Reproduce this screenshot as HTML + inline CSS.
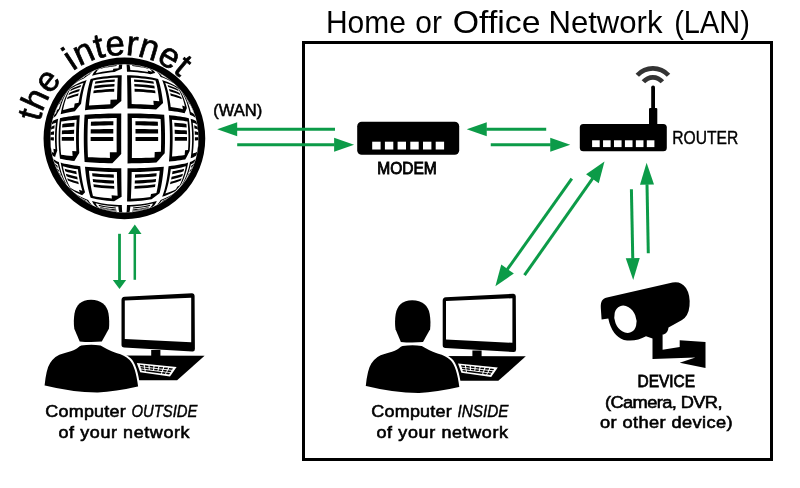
<!DOCTYPE html>
<html><head><meta charset="utf-8"><style>
html,body{margin:0;padding:0;background:#fff;overflow:hidden;width:800px;height:488px;}
svg{display:block;}
text{font-family:"Liberation Sans",sans-serif;fill:#000;}
</style></head><body>
<svg width="800" height="488" viewBox="0 0 800 488">
<rect x="303.5" y="42.5" width="468" height="417" fill="none" stroke="#000" stroke-width="3"/>
<clipPath id="gc"><circle cx="124.4" cy="138.4" r="75.5"/></clipPath>
<g clip-path="url(#gc)">
<circle cx="124.4" cy="138.4" r="76" fill="#fff"/>
<path fill="#000" d="M61.10 100.07 L61.72 99.06 L62.39 98.01 L63.12 96.92 L63.91 95.78 L64.76 94.59 L65.69 93.36 L66.70 92.07 L67.80 90.73 L69.02 89.36 L67.80 90.96 L66.63 92.72 L65.53 94.62 L64.48 96.67 L63.49 98.86 L62.56 101.18 L61.69 103.63 L60.89 106.18 L60.15 108.85 L58.59 111.28 L57.15 113.69 L55.83 116.07 L54.77 116.72 L53.95 117.39 L53.38 118.07 L53.05 118.77 L52.87 119.46 L52.70 120.10 L52.55 120.70 L53.12 118.51 L53.75 116.38 L54.43 114.31 L55.16 112.29 L55.92 110.35 L56.72 108.47 L57.56 106.65 L58.42 104.90 L59.30 103.22 L60.19 101.61Z M51.89 123.61 L52.00 123.09 L52.12 122.54 L52.27 121.95 L52.62 121.36 L53.23 120.79 L54.09 120.23 L55.21 119.68 L56.56 119.16 L58.16 118.64 L57.73 121.74 L57.37 124.89 L57.08 128.08 L56.88 131.31 L56.75 134.57 L56.69 137.83 L56.72 141.10 L56.82 144.37 L57.00 147.61 L57.26 150.82 L56.37 153.03 L55.65 155.12 L55.12 157.08 L54.03 156.54 L53.19 155.98 L52.60 155.41 L52.26 154.83 L52.12 154.25 L52.00 153.70 L51.89 153.19 L51.45 150.80 L51.08 148.37 L50.78 145.91 L50.57 143.42 L50.44 140.91 L50.40 138.40 L50.44 135.89 L50.57 133.38 L50.78 130.89 L51.08 128.43 L51.45 126.00Z M52.55 156.10 L52.70 156.71 L52.87 157.36 L53.06 158.05 L53.39 158.75 L53.99 159.44 L54.83 160.12 L55.92 160.77 L57.25 161.41 L58.83 162.02 L59.42 164.88 L60.08 167.65 L60.80 170.33 L61.60 172.90 L62.46 175.35 L63.38 177.69 L64.36 179.89 L65.41 181.96 L66.51 183.88 L66.42 184.26 L66.50 184.48 L66.63 184.64 L65.63 183.37 L64.72 182.15 L63.87 180.97 L63.10 179.85 L62.38 178.77 L61.72 177.73 L61.10 176.73 L60.19 175.19 L59.30 173.58 L58.42 171.90 L57.56 170.15 L56.72 168.33 L55.92 166.45 L55.16 164.51 L54.43 162.49 L53.75 160.42 L53.12 158.29Z M84.12 76.32 L85.56 75.41 L87.05 74.52 L88.61 73.63 L90.24 72.76 L91.93 71.90 L93.69 71.07 L95.51 70.27 L97.39 69.50 L96.58 69.83 L95.71 70.19 L94.80 70.58 L93.83 71.01 L92.81 71.50 L91.80 72.18 L90.82 73.08 L89.86 74.21 L86.82 76.29 L83.80 78.56 L81.56 79.56 L79.47 80.62 L77.54 81.75 L75.76 82.92 L74.15 84.16 L72.72 85.44 L74.03 84.19 L75.31 83.03 L76.55 81.95 L77.75 80.96 L78.91 80.03 L80.03 79.18 L81.11 78.38 L82.15 77.65 L83.16 76.96Z M70.44 88.04 L71.92 86.87 L73.57 85.75 L75.39 84.68 L77.36 83.65 L79.47 82.68 L81.73 81.76 L84.13 80.90 L86.66 80.09 L85.89 82.08 L85.16 84.25 L84.46 86.58 L83.80 89.07 L83.17 91.71 L82.59 94.50 L82.04 97.42 L81.54 100.46 L81.08 103.63 L77.90 107.46 L74.84 111.33 L72.03 111.74 L69.40 112.18 L66.93 112.65 L64.64 113.14 L62.55 113.65 L60.64 114.19 L61.21 111.22 L61.86 108.35 L62.56 105.58 L63.34 102.92 L64.17 100.37 L65.07 97.95 L66.03 95.67 L67.05 93.53 L68.13 91.54 L69.26 89.71Z M60.00 118.15 L61.88 117.72 L63.94 117.30 L66.18 116.90 L68.59 116.52 L71.17 116.16 L73.91 115.82 L76.80 115.50 L79.83 115.20 L79.55 118.84 L79.33 122.54 L79.15 126.30 L79.02 130.09 L78.94 133.90 L78.90 137.74 L78.92 141.57 L78.98 145.40 L79.10 149.20 L79.26 152.96 L77.53 155.74 L75.89 158.43 L74.36 161.03 L71.53 160.68 L68.86 160.32 L66.37 159.93 L64.05 159.52 L61.93 159.09 L60.00 158.65 L59.57 155.39 L59.22 152.06 L58.94 148.69 L58.74 145.28 L58.63 141.85 L58.59 138.40 L58.63 134.95 L58.74 131.52 L58.94 128.11 L59.22 124.74 L59.57 121.41Z M60.64 162.61 L62.49 163.13 L64.53 163.63 L66.74 164.11 L69.13 164.57 L71.68 165.00 L74.39 165.41 L77.25 165.80 L80.24 166.15 L80.62 169.53 L81.03 172.81 L81.49 175.99 L81.99 179.05 L82.53 181.99 L83.11 184.79 L83.73 187.45 L84.38 189.95 L85.08 192.30 L83.47 193.89 L82.11 195.18 L79.77 194.24 L77.57 193.25 L75.54 192.21 L73.67 191.11 L71.97 189.96 L70.44 188.76 L69.26 187.09 L68.13 185.26 L67.05 183.27 L66.03 181.13 L65.07 178.85 L64.17 176.43 L63.34 173.88 L62.56 171.22 L61.86 168.45 L61.21 165.58Z M72.72 191.36 L74.11 192.61 L75.67 193.81 L77.39 194.96 L79.26 196.06 L81.28 197.10 L83.44 198.09 L85.73 199.02 L88.15 199.88 L89.05 201.42 L89.98 202.74 L90.94 203.84 L91.93 204.72 L92.94 205.37 L93.96 205.85 L94.92 206.27 L95.82 206.66 L94.86 206.25 L93.97 205.86 L92.16 205.01 L90.42 204.14 L88.74 203.24 L87.13 202.33 L85.60 201.41 L84.12 200.48 L83.16 199.84 L82.15 199.15 L81.11 198.42 L80.03 197.62 L78.91 196.77 L77.75 195.84 L76.55 194.85 L75.31 193.77 L74.03 192.61Z M100.33 68.42 L102.58 67.69 L104.89 67.02 L107.28 66.41 L109.71 65.87 L112.20 65.41 L114.74 65.03 L117.30 64.74 L119.90 64.54 L122.51 64.42 L122.44 64.43 L122.37 64.43 L122.29 64.53 L122.22 64.88 L122.15 65.47 L122.08 66.30 L122.01 67.37 L121.95 68.67 L119.54 69.66 L117.07 70.79 L114.53 72.04 L111.09 72.32 L107.71 72.68 L104.38 73.13 L101.13 73.66 L97.98 74.28 L94.92 74.97 L91.98 75.74 L92.76 74.18 L93.58 72.83 L94.42 71.70 L95.28 70.78 L96.17 70.09 L97.08 69.63 L97.97 69.28 L98.80 68.97 L99.59 68.68Z M90.66 78.99 L93.76 78.27 L96.98 77.62 L100.30 77.05 L103.72 76.55 L107.22 76.13 L110.78 75.79 L114.40 75.53 L118.05 75.35 L121.73 75.25 L121.68 77.45 L121.63 79.83 L121.58 82.38 L121.54 85.10 L121.49 87.98 L121.45 91.01 L121.42 94.18 L121.38 97.48 L121.35 100.91 L118.41 103.42 L115.44 105.99 L112.46 108.62 L108.29 108.74 L104.17 108.89 L100.13 109.08 L96.18 109.30 L92.32 109.55 L88.58 109.84 L84.97 110.16 L85.30 106.68 L85.67 103.31 L86.08 100.04 L86.53 96.90 L87.02 93.88 L87.54 91.00 L88.10 88.27 L88.69 85.70 L89.31 83.29 L89.97 81.05Z M84.60 114.80 L88.28 114.53 L92.10 114.29 L96.04 114.07 L100.07 113.89 L104.20 113.73 L108.39 113.61 L112.64 113.51 L116.94 113.45 L121.26 113.41 L121.25 117.33 L121.23 121.32 L121.22 125.37 L121.21 129.45 L121.20 133.56 L121.20 137.69 L121.20 141.81 L121.21 145.93 L121.21 150.03 L121.23 154.09 L118.22 157.21 L115.26 160.28 L112.35 163.28 L108.14 163.18 L103.99 163.06 L99.91 162.90 L95.92 162.72 L92.02 162.51 L88.25 162.27 L84.60 162.00 L84.35 158.19 L84.14 154.32 L83.98 150.38 L83.87 146.41 L83.80 142.41 L83.78 138.40 L83.80 134.39 L83.87 130.39 L83.98 126.42 L84.14 122.48 L84.35 118.61Z M84.97 166.64 L88.62 166.97 L92.40 167.26 L96.30 167.51 L100.30 167.73 L104.38 167.92 L108.54 168.07 L112.75 168.18 L117.01 168.26 L121.29 168.31 L121.32 171.96 L121.35 175.51 L121.38 178.94 L121.41 182.26 L121.45 185.45 L121.49 188.49 L121.53 191.39 L121.58 194.13 L121.62 196.70 L119.05 198.35 L116.55 199.87 L114.14 201.26 L110.57 200.99 L107.04 200.65 L103.58 200.23 L100.20 199.74 L96.91 199.17 L93.73 198.52 L90.66 197.81 L89.97 195.75 L89.31 193.51 L88.69 191.10 L88.10 188.53 L87.54 185.80 L87.02 182.92 L86.53 179.90 L86.08 176.76 L85.67 173.49 L85.30 170.12Z M91.98 201.06 L94.95 201.84 L98.04 202.54 L101.23 203.15 L104.51 203.69 L107.88 204.14 L111.30 204.50 L114.78 204.78 L118.29 204.97 L121.83 205.08 L121.89 206.81 L121.96 208.31 L122.02 209.58 L122.09 210.61 L122.16 211.41 L122.23 211.97 L122.30 212.29 L122.38 212.37 L120.54 212.30 L118.79 212.19 L117.12 212.04 L114.58 211.75 L112.08 211.37 L109.62 210.91 L107.20 210.37 L104.85 209.77 L102.55 209.10 L100.33 208.38 L99.59 208.12 L98.80 207.83 L97.97 207.52 L97.08 207.17 L96.17 206.71 L95.28 206.02 L94.42 205.10 L93.58 203.97 L92.76 202.62Z M126.29 64.42 L128.90 64.54 L131.50 64.74 L134.06 65.03 L136.60 65.41 L139.09 65.87 L141.52 66.41 L143.91 67.02 L146.22 67.69 L148.47 68.42 L149.22 68.69 L150.02 68.98 L150.87 69.30 L151.77 69.65 L152.68 70.13 L153.58 70.84 L154.46 71.79 L155.30 72.95 L153.85 73.23 L152.26 73.65 L150.54 74.22 L147.37 73.61 L144.12 73.09 L140.79 72.65 L137.39 72.29 L133.95 72.01 L130.47 71.82 L126.97 71.72 L126.91 70.01 L126.84 68.53 L126.78 67.27 L126.71 66.23 L126.64 65.43 L126.57 64.86 L126.50 64.53 L126.43 64.43 L126.36 64.43Z M127.07 75.25 L130.75 75.35 L134.40 75.53 L138.02 75.79 L141.58 76.13 L145.08 76.55 L148.50 77.05 L151.82 77.62 L155.04 78.27 L158.14 78.99 L158.83 81.03 L159.48 83.24 L160.09 85.62 L160.68 88.17 L161.23 90.86 L161.75 93.70 L162.24 96.68 L162.68 99.79 L163.09 103.01 L160.88 105.08 L158.56 107.25 L156.13 109.53 L152.27 109.28 L148.30 109.06 L144.25 108.88 L140.14 108.73 L135.96 108.61 L131.75 108.53 L127.51 108.49 L127.48 104.81 L127.45 101.22 L127.42 97.75 L127.39 94.41 L127.35 91.20 L127.31 88.13 L127.27 85.21 L127.22 82.46 L127.17 79.88 L127.12 77.47Z M127.54 113.41 L131.86 113.45 L136.16 113.51 L140.41 113.61 L144.60 113.73 L148.73 113.89 L152.76 114.07 L156.70 114.29 L160.52 114.53 L164.20 114.80 L164.45 118.50 L164.65 122.27 L164.80 126.08 L164.92 129.94 L164.99 133.83 L165.02 137.73 L165.01 141.63 L164.95 145.52 L164.85 149.39 L164.71 153.22 L162.01 156.33 L159.25 159.43 L156.43 162.53 L152.52 162.74 L148.52 162.92 L144.44 163.07 L140.28 163.19 L136.07 163.29 L131.82 163.35 L127.54 163.39 L127.56 159.35 L127.57 155.25 L127.58 151.08 L127.59 146.88 L127.60 142.65 L127.60 138.40 L127.60 134.15 L127.59 129.92 L127.58 125.72 L127.57 121.55 L127.56 117.45Z M127.51 168.31 L131.79 168.26 L136.05 168.18 L140.26 168.07 L144.42 167.92 L148.50 167.73 L152.50 167.51 L156.40 167.26 L160.18 166.97 L163.83 166.64 L163.50 170.08 L163.13 173.43 L162.73 176.66 L162.29 179.78 L161.81 182.77 L161.29 185.63 L160.74 188.34 L160.16 190.90 L159.55 193.30 L156.90 195.37 L154.25 197.34 L151.59 199.22 L148.30 199.79 L144.91 200.27 L141.44 200.69 L137.91 201.02 L134.33 201.28 L130.71 201.45 L127.07 201.55 L127.12 199.33 L127.17 196.92 L127.22 194.34 L127.27 191.59 L127.31 188.67 L127.35 185.60 L127.39 182.39 L127.42 179.05 L127.45 175.58 L127.48 171.99Z M126.97 205.08 L130.51 204.97 L134.02 204.78 L137.50 204.50 L140.92 204.14 L144.29 203.69 L147.57 203.15 L150.76 202.54 L153.85 201.84 L156.82 201.06 L156.03 202.64 L155.20 204.00 L154.35 205.14 L153.47 206.06 L152.57 206.74 L151.65 207.20 L150.76 207.55 L149.92 207.86 L147.83 208.59 L145.77 209.25 L143.74 209.83 L141.38 210.43 L138.96 210.95 L136.50 211.40 L133.99 211.78 L131.45 212.06 L128.88 212.26 L126.29 212.38 L126.36 212.37 L126.43 212.37 L126.50 212.27 L126.57 211.94 L126.64 211.37 L126.71 210.57 L126.78 209.53 L126.84 208.27 L126.91 206.79Z M151.41 69.50 L153.29 70.27 L155.11 71.07 L156.87 71.90 L158.56 72.76 L160.19 73.63 L161.75 74.52 L163.24 75.41 L164.68 76.32 L165.66 76.97 L166.67 77.66 L167.73 78.41 L168.83 79.22 L169.96 80.09 L171.14 81.03 L172.36 82.04 L173.62 83.14 L173.56 83.09 L173.39 83.18 L171.65 81.99 L169.74 80.85 L167.69 79.78 L165.48 78.76 L163.13 77.81 L160.65 76.92 L159.77 75.40 L158.85 74.09 L157.90 73.00 L156.92 72.12 L155.92 71.46 L154.92 70.99 L153.97 70.56 L153.06 70.18 L152.21 69.83Z M162.14 80.09 L164.67 80.90 L167.07 81.76 L169.33 82.68 L171.44 83.65 L173.41 84.68 L175.23 85.75 L176.88 86.87 L178.36 88.04 L179.53 89.69 L180.65 91.50 L181.72 93.47 L182.73 95.58 L183.68 97.84 L184.57 100.22 L185.41 102.73 L186.18 105.36 L186.88 108.10 L185.88 110.55 L184.61 113.24 L182.36 112.75 L179.93 112.28 L177.33 111.83 L174.56 111.41 L171.63 111.01 L168.56 110.65 L168.18 107.23 L167.76 103.92 L167.30 100.72 L166.79 97.63 L166.24 94.67 L165.66 91.85 L165.03 89.17 L164.36 86.65 L163.66 84.29 L162.92 82.10Z M168.97 115.20 L172.00 115.50 L174.89 115.82 L177.63 116.16 L180.21 116.52 L182.62 116.90 L184.86 117.30 L186.92 117.72 L188.80 118.15 L189.22 121.32 L189.57 124.55 L189.84 127.82 L190.04 131.14 L190.16 134.47 L190.21 137.82 L190.19 141.17 L190.09 144.51 L189.92 147.83 L189.67 151.12 L188.28 153.87 L186.79 156.64 L185.20 159.43 L182.93 159.84 L180.47 160.24 L177.84 160.61 L175.04 160.96 L172.08 161.29 L168.97 161.60 L169.26 157.85 L169.49 154.04 L169.67 150.18 L169.79 146.27 L169.87 142.34 L169.90 138.40 L169.87 134.46 L169.79 130.53 L169.67 126.62 L169.49 122.76 L169.26 118.95Z M168.56 166.15 L171.55 165.80 L174.41 165.41 L177.12 165.00 L179.67 164.57 L182.06 164.11 L184.27 163.63 L186.31 163.13 L188.16 162.61 L187.59 165.55 L186.96 168.39 L186.26 171.14 L185.49 173.78 L184.67 176.30 L183.78 178.70 L182.83 180.97 L181.83 183.10 L180.77 185.09 L178.19 188.04 L175.50 190.88 L173.66 191.98 L171.66 193.04 L169.50 194.04 L167.19 194.99 L164.73 195.88 L162.14 196.71 L162.92 194.70 L163.66 192.51 L164.36 190.15 L165.03 187.63 L165.66 184.95 L166.24 182.13 L166.79 179.17 L167.30 176.08 L167.76 172.88 L168.18 169.57Z M160.65 199.88 L163.07 199.02 L165.36 198.09 L167.52 197.10 L169.54 196.06 L171.41 194.96 L173.13 193.81 L174.69 192.61 L176.08 191.36 L174.75 192.63 L173.46 193.80 L172.20 194.89 L170.99 195.89 L169.82 196.82 L168.69 197.68 L167.60 198.48 L166.55 199.22 L164.27 200.74 L161.99 202.14 L160.40 203.05 L158.74 203.95 L157.01 204.83 L155.21 205.68 L153.34 206.51 L151.41 207.30 L152.21 206.97 L153.06 206.62 L153.97 206.24 L154.92 205.81 L155.92 205.34 L156.92 204.68 L157.90 203.80 L158.85 202.71 L159.77 201.40Z M179.78 89.36 L181.00 90.73 L182.10 92.07 L183.11 93.36 L184.04 94.59 L184.89 95.78 L185.68 96.92 L186.41 98.01 L187.08 99.06 L187.70 100.07 L188.60 101.60 L189.49 103.19 L190.36 104.85 L191.21 106.58 L192.03 108.37 L192.83 110.23 L193.59 112.16 L194.31 114.14 L194.99 116.19 L195.30 117.19 L195.61 118.26 L195.92 119.40 L195.73 118.71 L195.38 118.01 L194.79 117.33 L193.94 116.66 L192.86 116.01 L191.53 115.39 L189.97 114.78 L189.38 111.89 L188.71 109.09 L187.97 106.39 L187.17 103.80 L186.30 101.33 L185.36 98.98 L184.37 96.76 L183.31 94.68 L182.19 92.75 L181.01 90.98Z M190.64 118.64 L192.24 119.16 L193.59 119.68 L194.71 120.23 L195.57 120.79 L196.18 121.36 L196.53 121.95 L196.68 122.54 L196.80 123.09 L196.91 123.61 L197.34 125.93 L197.71 128.29 L198.00 130.68 L198.21 133.10 L198.34 135.53 L198.40 137.98 L198.37 140.42 L198.27 142.86 L198.08 145.28 L197.82 147.69 L197.51 149.81 L197.14 152.02 L196.67 154.30 L196.52 154.88 L196.15 155.46 L195.54 156.03 L194.68 156.59 L193.57 157.13 L192.22 157.65 L190.64 158.16 L191.09 154.97 L191.45 151.73 L191.74 148.44 L191.94 145.11 L192.07 141.76 L192.11 138.40 L192.07 135.04 L191.94 131.69 L191.74 128.36 L191.45 125.07 L191.09 121.83Z M189.97 162.02 L191.55 161.41 L192.88 160.77 L193.97 160.12 L194.81 159.44 L195.41 158.75 L195.74 158.05 L195.93 157.36 L196.10 156.71 L196.25 156.10 L195.68 158.27 L195.06 160.38 L194.39 162.43 L193.67 164.43 L192.92 166.36 L192.12 168.22 L191.30 170.02 L190.45 171.76 L189.58 173.43 L188.58 175.24 L187.50 177.05 L186.36 178.86 L185.64 179.95 L184.85 181.08 L184.00 182.26 L183.08 183.48 L182.08 184.76 L180.99 186.08 L179.78 187.44 L181.01 185.82 L182.19 184.05 L183.31 182.12 L184.37 180.04 L185.36 177.82 L186.30 175.47 L187.17 173.00 L187.97 170.41 L188.71 167.71 L189.38 164.91Z"/>
<path fill="#fff" d="M60.72 100.70 L61.35 99.67 L62.02 98.58 L62.76 97.45 L63.56 96.27 L64.43 95.04 L65.39 93.75 L66.44 92.42 L65.14 94.26 L63.91 96.27 L62.75 98.45 L61.67 100.79 L60.66 103.27 L59.72 105.89 L58.87 108.63 L56.97 109.95 L56.02 113.19 L55.04 114.02 L54.35 114.88 L53.95 115.75 L53.68 116.60 L53.45 117.38 L54.19 115.01 L55.00 112.71 L55.86 110.50 L56.77 108.36 L57.72 106.32 L58.69 104.36 L59.70 102.49Z M51.46 125.91 L51.54 125.46 L51.67 124.98 L52.03 124.50 L52.64 124.03 L53.51 123.58 L54.63 123.14 L55.99 122.71 L55.61 125.93 L55.33 129.21 L55.13 132.51 L55.01 135.85 L54.99 139.19 L55.06 142.52 L55.21 145.85 L55.45 149.14 L53.38 148.67 L53.87 152.87 L52.83 152.40 L52.08 151.91 L51.63 151.42 L51.47 150.91 L51.39 150.44 L51.03 148.03 L50.75 145.59 L50.55 143.13 L50.43 140.65 L50.40 138.17 L50.45 135.68 L50.58 133.20 L50.80 130.75 L51.09 128.31Z M53.34 159.05 L53.55 159.76 L53.79 160.53 L54.11 161.32 L54.68 162.10 L55.49 162.86 L56.55 163.60 L57.85 164.32 L58.60 167.21 L59.42 170.00 L60.33 172.66 L61.32 175.19 L62.38 177.58 L63.51 179.81 L64.72 181.88 L63.11 179.87 L64.63 182.02 L63.66 180.67 L62.78 179.37 L61.97 178.13 L61.24 176.96 L60.57 175.84 L59.55 174.04 L58.55 172.15 L57.57 170.18 L56.63 168.12 L55.73 165.98 L54.88 163.75 L54.08 161.44Z M84.47 76.10 L86.02 75.13 L87.64 74.18 L89.33 73.24 L91.10 72.32 L92.94 71.42 L94.86 70.55 L94.00 70.93 L93.10 71.35 L92.15 71.80 L91.14 72.29 L90.11 72.88 L89.09 73.66 L88.10 74.65 L85.12 76.06 L83.88 77.44 L81.44 78.70 L79.20 80.05 L77.18 81.47 L75.38 82.97 L76.66 81.86 L77.90 80.83 L79.10 79.88 L80.26 79.01 L81.37 78.20 L82.44 77.44 L83.47 76.75Z M70.54 88.80 L72.28 87.69 L74.19 86.63 L76.28 85.62 L78.52 84.66 L80.92 83.75 L83.47 82.91 L82.62 85.22 L81.83 87.73 L81.08 90.42 L80.37 93.29 L79.72 96.32 L79.11 99.50 L78.56 102.82 L74.69 103.53 L74.04 107.54 L70.91 108.12 L68.01 108.73 L65.35 109.39 L62.94 110.08 L63.64 106.91 L64.41 103.86 L65.26 100.94 L66.18 98.18 L67.17 95.57 L68.23 93.13 L69.35 90.87Z M61.17 121.56 L63.30 121.21 L65.63 120.88 L68.14 120.56 L70.82 120.25 L73.68 119.97 L76.70 119.70 L76.45 123.55 L76.27 127.45 L76.14 131.39 L76.07 135.36 L76.05 139.34 L76.09 143.31 L76.19 147.27 L76.35 151.19 L72.27 150.94 L72.60 156.07 L69.36 155.74 L66.36 155.39 L63.60 155.02 L61.11 154.63 L60.80 151.38 L60.57 148.09 L60.40 144.77 L60.30 141.43 L60.28 138.08 L60.32 134.73 L60.43 131.40 L60.61 128.08 L60.86 124.80Z M62.84 166.23 L64.90 166.81 L67.15 167.38 L69.59 167.91 L72.19 168.42 L74.97 168.90 L77.90 169.34 L78.38 172.83 L78.92 176.20 L79.51 179.42 L80.15 182.50 L80.83 185.43 L81.57 188.18 L82.35 190.75 L78.83 189.66 L79.91 192.40 L77.19 191.32 L74.68 190.18 L72.40 188.97 L70.36 187.70 L69.18 185.60 L68.06 183.31 L67.01 180.85 L66.03 178.21 L65.12 175.43 L64.29 172.49 L63.53 169.42Z M75.18 193.66 L76.72 194.95 L78.43 196.18 L80.31 197.35 L82.33 198.47 L84.51 199.52 L86.82 200.51 L87.77 201.77 L88.75 202.82 L89.76 203.68 L90.79 204.33 L91.81 204.84 L92.78 205.31 L93.70 205.73 L91.07 204.47 L92.14 205.00 L90.04 203.94 L88.03 202.85 L86.13 201.73 L84.32 200.61 L83.32 199.95 L82.28 199.25 L81.21 198.48 L80.09 197.66 L78.92 196.78 L77.72 195.82 L76.47 194.78Z M101.90 67.90 L104.27 67.19 L106.70 66.55 L109.20 65.98 L111.75 65.49 L114.35 65.09 L116.99 64.77 L119.65 64.55 L119.49 64.56 L119.32 64.64 L119.15 64.93 L118.98 65.45 L118.82 66.19 L118.66 67.14 L118.51 68.31 L113.29 68.69 L112.96 70.33 L109.34 70.71 L105.78 71.19 L102.32 71.77 L98.95 72.45 L95.70 73.23 L96.44 71.89 L97.20 70.76 L97.98 69.85 L98.77 69.16 L99.59 68.69 L100.41 68.40 L101.18 68.14Z M93.08 80.46 L96.35 79.85 L99.74 79.30 L103.21 78.82 L106.77 78.42 L110.40 78.10 L114.07 77.85 L117.79 77.67 L117.66 80.25 L117.53 83.04 L117.42 86.01 L117.31 89.17 L117.21 92.50 L117.11 95.99 L117.03 99.62 L110.49 99.81 L110.32 104.26 L105.85 104.44 L101.46 104.66 L97.17 104.93 L93.00 105.24 L88.95 105.60 L89.33 101.90 L89.75 98.33 L90.21 94.91 L90.71 91.65 L91.24 88.57 L91.82 85.67 L92.43 82.96Z M87.99 118.93 L91.82 118.73 L95.77 118.56 L99.82 118.41 L103.95 118.29 L108.16 118.18 L112.43 118.10 L116.74 118.05 L116.70 122.24 L116.67 126.49 L116.65 130.78 L116.64 135.09 L116.64 139.42 L116.64 143.74 L116.66 148.04 L116.68 152.32 L109.84 152.25 L109.93 157.92 L105.34 157.82 L100.83 157.70 L96.42 157.55 L92.12 157.37 L87.96 157.17 L87.79 153.41 L87.67 149.61 L87.58 145.77 L87.52 141.91 L87.51 138.03 L87.53 134.16 L87.59 130.31 L87.69 126.47 L87.82 122.68Z M88.90 170.63 L92.63 170.96 L96.48 171.25 L100.42 171.50 L104.46 171.71 L108.56 171.88 L112.72 172.01 L116.92 172.10 L117.00 175.92 L117.08 179.60 L117.17 183.14 L117.27 186.52 L117.38 189.74 L117.49 192.78 L117.62 195.63 L111.60 195.34 L111.89 198.43 L107.93 198.11 L104.04 197.71 L100.24 197.21 L96.55 196.63 L92.98 195.97 L92.34 193.44 L91.73 190.71 L91.16 187.78 L90.63 184.67 L90.14 181.39 L89.68 177.94 L89.27 174.35Z M95.60 203.35 L98.60 204.07 L101.70 204.70 L104.90 205.25 L108.17 205.72 L111.50 206.10 L114.89 206.39 L118.31 206.59 L118.46 208.04 L118.61 209.29 L118.77 210.32 L118.93 211.13 L119.09 211.72 L119.26 212.09 L119.43 212.23 L115.04 211.81 L115.41 211.85 L112.56 211.45 L109.76 210.94 L107.03 210.33 L104.37 209.64 L101.80 208.86 L101.06 208.62 L100.29 208.36 L99.47 208.05 L98.65 207.55 L97.86 206.83 L97.08 205.89 L96.33 204.72Z M129.02 64.54 L131.69 64.76 L134.33 65.07 L136.93 65.47 L139.49 65.95 L141.99 66.52 L144.42 67.16 L146.79 67.87 L147.50 68.10 L148.25 68.35 L149.04 68.63 L149.84 69.07 L150.61 69.72 L151.37 70.58 L152.11 71.66 L147.48 70.52 L148.18 72.10 L144.76 71.47 L141.25 70.94 L137.66 70.51 L134.01 70.18 L130.31 69.96 L130.16 68.51 L130.01 67.28 L129.85 66.28 L129.69 65.50 L129.53 64.95 L129.36 64.64 L129.19 64.56Z M130.84 77.67 L134.56 77.84 L138.24 78.08 L141.87 78.41 L145.43 78.80 L148.91 79.27 L152.30 79.82 L155.58 80.43 L156.21 82.88 L156.80 85.51 L157.36 88.34 L157.89 91.34 L158.38 94.51 L158.83 97.84 L159.24 101.31 L153.37 100.73 L153.73 105.08 L149.50 104.79 L145.15 104.54 L140.72 104.35 L136.22 104.20 L131.67 104.10 L131.60 100.22 L131.51 96.47 L131.42 92.89 L131.32 89.46 L131.21 86.22 L131.10 83.16 L130.97 80.31Z M131.87 118.05 L136.18 118.10 L140.45 118.18 L144.66 118.28 L148.80 118.41 L152.85 118.55 L156.80 118.73 L160.64 118.92 L160.82 122.93 L160.96 127.00 L161.05 131.10 L161.11 135.23 L161.12 139.37 L161.09 143.51 L161.01 147.63 L160.90 151.72 L154.73 151.92 L154.55 157.46 L150.19 157.63 L145.73 157.76 L141.17 157.88 L136.55 157.96 L131.87 158.02 L131.91 154.09 L131.93 150.11 L131.95 146.10 L131.96 142.06 L131.96 138.02 L131.96 133.97 L131.95 129.94 L131.93 125.94 L131.90 121.97Z M131.68 172.11 L135.89 172.02 L140.05 171.89 L144.16 171.72 L148.20 171.51 L152.15 171.26 L156.00 170.97 L159.74 170.65 L159.38 174.29 L158.98 177.80 L158.54 181.18 L158.06 184.40 L157.55 187.46 L157.00 190.35 L156.41 193.05 L151.03 193.93 L150.42 196.94 L146.67 197.47 L142.83 197.92 L138.90 198.29 L134.90 198.56 L130.86 198.75 L130.99 196.07 L131.11 193.19 L131.23 190.10 L131.34 186.83 L131.44 183.38 L131.53 179.77 L131.61 176.01Z M130.33 206.60 L133.76 206.40 L137.15 206.11 L140.48 205.74 L143.76 205.28 L146.95 204.73 L150.06 204.10 L153.07 203.38 L152.36 204.73 L151.63 205.88 L150.87 206.81 L150.10 207.54 L149.31 208.05 L148.51 208.36 L147.75 208.62 L143.84 209.80 L143.11 210.00 L140.41 210.65 L137.65 211.20 L134.82 211.66 L131.95 212.01 L129.05 212.25 L129.21 212.24 L129.39 212.13 L129.55 211.78 L129.72 211.20 L129.88 210.39 L130.04 209.35 L130.19 208.08Z M153.87 70.52 L155.79 71.39 L157.63 72.28 L159.40 73.20 L161.10 74.14 L162.72 75.10 L164.27 76.06 L165.24 76.69 L166.25 77.37 L167.30 78.10 L168.38 78.89 L169.51 79.74 L170.67 80.65 L171.88 81.64 L169.76 79.93 L171.24 81.18 L169.17 79.77 L166.89 78.45 L164.41 77.20 L161.74 76.05 L160.77 74.79 L159.76 73.75 L158.73 72.92 L157.67 72.30 L156.64 71.79 L155.66 71.33 L154.74 70.91Z M165.23 82.87 L167.78 83.72 L170.19 84.62 L172.44 85.58 L174.53 86.59 L176.45 87.65 L178.19 88.76 L179.35 90.78 L180.46 92.99 L181.49 95.36 L182.47 97.90 L183.37 100.59 L184.21 103.43 L184.97 106.39 L182.18 105.48 L182.94 109.26 L180.23 108.61 L177.28 108.00 L174.10 107.42 L170.71 106.89 L170.21 103.34 L169.65 99.93 L169.04 96.65 L168.38 93.54 L167.67 90.59 L166.90 87.82 L166.09 85.25Z M171.98 119.69 L175.01 119.96 L177.87 120.24 L180.56 120.55 L183.08 120.86 L185.41 121.20 L187.55 121.55 L187.88 125.02 L188.14 128.53 L188.32 132.08 L188.42 135.66 L188.44 139.24 L188.38 142.83 L188.25 146.39 L188.03 149.93 L185.06 150.25 L184.66 155.10 L181.86 155.46 L178.81 155.81 L175.53 156.13 L172.03 156.43 L172.25 152.82 L172.42 149.17 L172.54 145.48 L172.61 141.77 L172.63 138.05 L172.60 134.33 L172.52 130.62 L172.39 126.94 L172.21 123.29Z M170.78 169.36 L173.72 168.91 L176.50 168.44 L179.12 167.93 L181.56 167.40 L183.81 166.84 L185.88 166.25 L185.21 169.38 L184.47 172.38 L183.66 175.26 L182.78 178.00 L181.83 180.60 L180.81 183.03 L179.73 185.29 L177.24 186.68 L175.96 189.22 L173.63 190.42 L171.09 191.54 L168.32 192.60 L165.36 193.58 L166.22 191.18 L167.02 188.57 L167.78 185.78 L168.48 182.80 L169.14 179.66 L169.74 176.37 L170.29 172.93Z M161.89 200.54 L164.21 199.56 L166.39 198.51 L168.42 197.40 L170.30 196.23 L172.01 194.99 L173.56 193.71 L172.30 194.80 L171.08 195.82 L169.90 196.76 L168.76 197.63 L167.66 198.44 L166.60 199.19 L165.58 199.88 L163.45 201.26 L162.30 201.96 L160.38 203.07 L158.35 204.15 L156.22 205.21 L153.99 206.22 L154.88 205.83 L155.81 205.40 L156.79 204.93 L157.83 204.42 L158.89 203.77 L159.92 202.91 L160.92 201.83Z M182.31 92.36 L183.37 93.69 L184.32 94.98 L185.20 96.22 L186.00 97.40 L186.74 98.53 L187.42 99.62 L188.05 100.65 L189.05 102.40 L190.04 104.23 L191.00 106.14 L191.93 108.13 L192.82 110.21 L193.67 112.37 L194.47 114.61 L194.02 113.32 L194.99 116.18 L194.69 115.31 L194.14 114.45 L193.31 113.61 L192.18 112.79 L190.77 112.00 L190.00 109.05 L189.14 106.22 L188.20 103.52 L187.17 100.96 L186.07 98.56 L184.89 96.31 L183.64 94.24Z M192.74 122.69 L194.12 123.12 L195.24 123.56 L196.12 124.01 L196.75 124.48 L197.12 124.95 L197.26 125.44 L197.34 125.89 L197.73 128.47 L198.04 131.07 L198.25 133.71 L198.37 136.36 L198.40 139.03 L198.33 141.69 L198.16 144.33 L197.90 146.96 L197.82 147.47 L197.28 151.17 L196.98 151.67 L196.38 152.16 L195.49 152.63 L194.29 153.10 L192.82 153.55 L193.15 150.52 L193.42 147.45 L193.60 144.35 L193.71 141.23 L193.74 138.10 L193.70 134.98 L193.57 131.86 L193.37 128.77 L193.10 125.71Z M190.88 164.35 L192.20 163.63 L193.27 162.89 L194.09 162.13 L194.67 161.36 L195.00 160.56 L195.24 159.80 L195.45 159.08 L194.73 161.42 L193.95 163.68 L193.11 165.87 L192.23 167.97 L191.32 169.99 L190.37 171.93 L189.39 173.79 L188.48 175.42 L187.20 177.54 L186.43 178.74 L185.59 180.01 L184.67 181.34 L183.65 182.73 L182.52 184.17 L183.83 182.25 L185.07 180.16 L186.24 177.89 L187.33 175.46 L188.34 172.88 L189.27 170.16 L190.12 167.31Z"/>
<path fill="#000" d="M60.56 100.97 L61.25 99.82 L62.01 98.60 L62.85 97.33 L63.76 95.98 L64.77 94.57 L63.66 96.21 L62.67 97.59 L61.81 98.93 L61.03 100.19 L60.32 101.40 L59.67 102.54Z M58.90 103.97 L59.50 102.85 L60.17 101.66 L60.90 100.41 L61.71 99.08 L62.72 97.75 L61.67 99.68 L60.63 100.94 L59.84 102.23 L59.17 103.46 L58.56 104.62 L58.01 105.71Z M57.33 107.13 L57.84 106.06 L58.41 104.92 L59.03 103.71 L59.82 102.48 L60.89 101.28 L59.99 103.32 L58.90 104.45 L58.08 105.61 L57.50 106.78 L56.99 107.88 L56.53 108.92Z M51.21 127.47 L51.32 127.02 L51.70 126.58 L52.39 126.16 L53.36 125.74 L54.63 125.33 L54.32 128.49 L53.04 128.79 L52.05 129.11 L51.36 129.44 L50.97 129.77 L50.87 130.11Z M50.64 132.46 L50.74 132.21 L51.14 131.98 L51.83 131.74 L52.82 131.52 L54.11 131.30 L53.96 134.63 L52.66 134.75 L51.67 134.87 L50.97 134.99 L50.57 135.12 L50.47 135.24Z M50.41 137.43 L50.51 137.39 L50.91 137.36 L51.61 137.32 L52.61 137.28 L53.90 137.25 L53.91 140.44 L52.62 140.38 L51.62 140.31 L50.92 140.25 L50.52 140.18 L50.42 140.11Z M53.99 161.16 L54.27 162.02 L54.62 162.94 L55.23 163.85 L56.13 164.73 L57.31 165.59 L58.01 167.98 L56.85 167.05 L55.97 166.08 L55.39 165.09 L55.01 164.10 L54.67 163.18Z M55.31 164.92 L55.69 165.88 L56.12 166.92 L56.69 167.98 L57.54 169.02 L58.68 170.02 L59.53 172.33 L58.42 171.24 L57.59 170.12 L57.02 168.99 L56.54 167.90 L56.10 166.89Z M56.75 168.39 L57.22 169.43 L57.75 170.55 L58.34 171.73 L59.15 172.91 L60.24 174.06 L61.15 176.07 L60.09 174.85 L59.31 173.60 L58.66 172.38 L58.08 171.23 L57.56 170.15Z M84.93 75.81 L86.80 74.67 L88.77 73.54 L90.85 72.44 L93.03 71.38 L92.25 71.75 L90.04 72.86 L87.94 74.00 L85.95 75.17 L84.07 76.35Z M83.30 76.87 L85.18 75.65 L87.19 74.44 L89.30 73.25 L91.53 72.10 L90.65 72.54 L88.39 73.75 L86.26 74.99 L84.25 76.24 L82.35 77.51Z M81.59 78.04 L83.49 76.74 L85.51 75.44 L87.66 74.17 L89.94 72.91 L89.03 73.40 L86.72 74.71 L84.56 76.04 L82.53 77.38 L80.64 78.73Z M71.01 89.32 L73.22 88.11 L75.67 86.97 L78.33 85.90 L81.21 84.90 L80.47 86.97 L77.54 87.93 L74.82 88.95 L72.32 90.04 L70.06 91.19Z M69.26 92.95 L71.57 91.85 L74.11 90.81 L76.87 89.83 L79.85 88.92 L79.15 91.33 L76.12 92.20 L73.31 93.12 L70.72 94.11 L68.37 95.15Z M67.71 96.95 L70.09 95.96 L72.72 95.02 L75.57 94.14 L78.64 93.32 L78.04 95.85 L74.93 96.62 L72.04 97.45 L69.37 98.33 L66.94 99.26Z M62.39 123.88 L65.05 123.54 L67.97 123.22 L71.12 122.93 L74.50 122.65 L74.29 126.46 L70.90 126.67 L67.73 126.89 L64.80 127.13 L62.12 127.38Z M61.95 130.51 L64.63 130.33 L67.57 130.16 L70.75 130.00 L74.16 129.85 L74.06 133.86 L70.64 133.94 L67.46 134.02 L64.51 134.12 L61.82 134.21Z M61.77 137.12 L64.47 137.09 L67.41 137.06 L70.60 137.03 L74.02 137.01 L74.03 140.86 L70.61 140.81 L67.42 140.77 L64.48 140.72 L61.78 140.67Z M64.66 168.68 L67.21 169.38 L70.00 170.05 L73.02 170.68 L76.27 171.27 L76.73 174.20 L73.52 173.56 L70.53 172.87 L67.77 172.13 L65.26 171.36Z M65.83 173.65 L68.31 174.48 L71.04 175.27 L74.00 176.01 L77.18 176.70 L77.74 179.53 L74.60 178.79 L71.68 177.99 L68.99 177.14 L66.55 176.24Z M67.15 178.19 L69.56 179.14 L72.22 180.03 L75.10 180.88 L78.21 181.66 L78.81 184.16 L75.76 183.33 L72.91 182.43 L70.30 181.48 L67.93 180.47Z M77.05 195.26 L78.95 196.74 L81.07 198.14 L83.39 199.45 L85.91 200.68 L86.79 201.65 L84.33 200.39 L82.07 199.04 L80.01 197.61 L78.13 196.15Z M79.05 196.88 L80.94 198.30 L82.98 199.72 L85.18 201.10 L87.58 202.38 L88.53 203.09 L86.20 201.78 L84.03 200.42 L82.00 199.05 L80.11 197.68Z M80.91 198.27 L82.80 199.60 L84.83 200.93 L86.99 202.25 L89.28 203.54 L90.18 204.01 L87.91 202.78 L85.77 201.51 L83.75 200.23 L81.85 198.95Z M103.40 67.44 L106.08 66.70 L108.83 66.06 L111.65 65.51 L114.53 65.06 L117.46 64.73 L117.25 64.75 L114.23 65.10 L111.27 65.57 L108.37 66.16 L105.55 66.84 L102.81 67.62Z M102.27 67.79 L105.06 66.97 L107.96 66.27 L110.93 65.68 L113.97 65.21 L117.06 64.87 L116.84 65.17 L113.66 65.51 L110.53 65.97 L107.47 66.55 L104.49 67.24 L101.61 68.04Z M101.10 68.36 L104.04 67.57 L107.09 66.89 L110.22 66.32 L113.42 65.86 L116.68 65.53 L116.48 66.12 L113.14 66.44 L109.85 66.89 L106.64 67.45 L103.51 68.11 L100.48 68.89Z M95.36 81.51 L99.06 80.92 L102.87 80.42 L106.78 80.00 L110.77 79.67 L114.81 79.42 L114.65 81.75 L110.54 81.98 L106.49 82.30 L102.52 82.70 L98.64 83.18 L94.88 83.74Z M94.47 85.82 L98.29 85.29 L102.22 84.83 L106.25 84.45 L110.35 84.14 L114.52 83.92 L114.37 86.61 L110.14 86.83 L105.97 87.11 L101.88 87.47 L97.89 87.91 L94.02 88.41Z M93.68 90.53 L97.60 90.05 L101.64 89.64 L105.77 89.30 L109.99 89.02 L114.27 88.82 L114.14 91.63 L109.81 91.82 L105.54 92.07 L101.35 92.40 L97.26 92.78 L93.29 93.23Z M90.97 121.71 L95.25 121.55 L99.65 121.41 L104.15 121.30 L108.73 121.20 L113.39 121.14 L113.34 125.31 L108.67 125.36 L104.07 125.43 L99.55 125.52 L95.13 125.63 L90.84 125.75Z M90.75 129.34 L95.05 129.25 L99.48 129.18 L104.01 129.11 L108.63 129.06 L113.31 129.03 L113.29 133.42 L108.60 133.44 L103.97 133.47 L99.43 133.50 L95.00 133.54 L90.68 133.59Z M90.66 136.93 L94.97 136.91 L99.41 136.90 L103.96 136.89 L108.59 136.88 L113.28 136.88 L113.28 141.09 L108.59 141.08 L103.96 141.07 L99.42 141.05 L94.98 141.03 L90.66 141.00Z M92.13 173.26 L96.25 173.60 L100.50 173.90 L104.84 174.14 L109.27 174.34 L113.76 174.48 L113.86 177.71 L109.41 177.55 L105.02 177.34 L100.72 177.07 L96.52 176.75 L92.43 176.37Z M92.72 179.03 L96.77 179.43 L100.93 179.78 L105.20 180.07 L109.54 180.30 L113.95 180.47 L114.07 183.60 L109.71 183.42 L105.42 183.17 L101.20 182.86 L97.09 182.49 L93.09 182.05Z M93.40 184.33 L97.35 184.79 L101.43 185.18 L105.60 185.51 L109.86 185.77 L114.17 185.96 L114.30 188.74 L110.04 188.53 L105.84 188.25 L101.72 187.90 L97.70 187.48 L93.79 186.99Z M98.44 204.83 L101.74 205.55 L105.14 206.17 L108.63 206.68 L112.19 207.09 L115.81 207.39 L116.00 208.54 L112.46 208.23 L108.97 207.81 L105.56 207.28 L102.24 206.65 L99.02 205.92Z M99.53 206.74 L102.69 207.49 L105.94 208.14 L109.28 208.68 L112.70 209.11 L116.17 209.42 L116.37 210.30 L112.99 209.97 L109.66 209.54 L106.40 208.98 L103.23 208.32 L100.16 207.55Z M100.65 208.07 L103.66 208.85 L106.76 209.53 L109.96 210.09 L113.22 210.53 L116.53 210.86 L116.73 211.40 L113.50 211.07 L110.33 210.61 L107.22 210.04 L104.19 209.36 L101.27 208.56Z M131.34 64.73 L134.27 65.06 L137.15 65.51 L139.97 66.06 L142.72 66.70 L145.40 67.44 L145.99 67.62 L143.25 66.84 L140.43 66.16 L137.53 65.57 L134.57 65.10 L131.55 64.75Z M131.74 64.87 L134.83 65.21 L137.87 65.68 L140.84 66.27 L143.74 66.97 L146.53 67.79 L147.19 68.04 L144.31 67.24 L141.33 66.55 L138.27 65.97 L135.14 65.51 L131.96 65.17Z M132.12 65.53 L135.38 65.86 L138.58 66.32 L141.71 66.89 L144.76 67.57 L147.70 68.36 L148.32 68.89 L145.29 68.11 L142.16 67.45 L138.95 66.89 L135.66 66.44 L132.32 66.12Z M133.99 79.42 L138.03 79.67 L142.02 80.00 L145.93 80.42 L149.74 80.92 L153.44 81.51 L153.92 83.74 L150.16 83.18 L146.28 82.70 L142.31 82.30 L138.26 81.98 L134.15 81.75Z M134.28 83.92 L138.45 84.14 L142.55 84.45 L146.58 84.83 L150.51 85.29 L154.33 85.82 L154.78 88.41 L150.91 87.91 L146.92 87.47 L142.83 87.11 L138.66 86.83 L134.43 86.61Z M134.53 88.82 L138.81 89.02 L143.03 89.30 L147.16 89.64 L151.20 90.05 L155.12 90.53 L155.51 93.23 L151.54 92.78 L147.45 92.40 L143.26 92.07 L138.99 91.82 L134.66 91.63Z M135.41 121.14 L140.07 121.20 L144.65 121.30 L149.15 121.41 L153.55 121.55 L157.83 121.71 L157.96 125.75 L153.67 125.63 L149.25 125.52 L144.73 125.43 L140.13 125.36 L135.46 125.31Z M135.49 129.03 L140.17 129.06 L144.79 129.11 L149.32 129.18 L153.75 129.25 L158.05 129.34 L158.12 133.59 L153.80 133.54 L149.37 133.50 L144.83 133.47 L140.20 133.44 L135.51 133.42Z M135.52 136.88 L140.21 136.88 L144.84 136.89 L149.39 136.90 L153.83 136.91 L158.14 136.93 L158.14 141.00 L153.82 141.03 L149.38 141.05 L144.84 141.07 L140.21 141.08 L135.52 141.09Z M135.04 174.48 L139.53 174.34 L143.96 174.14 L148.30 173.90 L152.55 173.60 L156.67 173.26 L156.37 176.37 L152.28 176.75 L148.08 177.07 L143.78 177.34 L139.39 177.55 L134.94 177.71Z M134.85 180.47 L139.26 180.30 L143.60 180.07 L147.87 179.78 L152.03 179.43 L156.08 179.03 L155.71 182.05 L151.71 182.49 L147.60 182.86 L143.38 183.17 L139.09 183.42 L134.73 183.60Z M134.63 185.96 L138.94 185.77 L143.20 185.51 L147.37 185.18 L151.45 184.79 L155.40 184.33 L155.01 186.99 L151.10 187.48 L147.08 187.90 L142.96 188.25 L138.76 188.53 L134.50 188.74Z M132.99 207.39 L136.61 207.09 L140.17 206.68 L143.66 206.17 L147.06 205.55 L150.36 204.83 L149.78 205.92 L146.56 206.65 L143.24 207.28 L139.83 207.81 L136.34 208.23 L132.80 208.54Z M132.63 209.42 L136.10 209.11 L139.52 208.68 L142.86 208.14 L146.11 207.49 L149.27 206.74 L148.64 207.55 L145.57 208.32 L142.40 208.98 L139.14 209.54 L135.81 209.97 L132.43 210.30Z M132.27 210.86 L135.58 210.53 L138.84 210.09 L142.04 209.53 L145.14 208.85 L148.15 208.07 L147.53 208.56 L144.61 209.36 L141.58 210.04 L138.47 210.61 L135.30 211.07 L132.07 211.40Z M155.77 71.38 L157.95 72.44 L160.03 73.54 L162.00 74.67 L163.87 75.81 L164.73 76.35 L162.85 75.17 L160.86 74.00 L158.76 72.86 L156.55 71.75Z M157.27 72.10 L159.50 73.25 L161.61 74.44 L163.62 75.65 L165.50 76.87 L166.45 77.51 L164.55 76.24 L162.54 74.99 L160.41 73.75 L158.15 72.54Z M158.86 72.91 L161.14 74.17 L163.29 75.44 L165.31 76.74 L167.21 78.04 L168.16 78.73 L166.27 77.38 L164.24 76.04 L162.08 74.71 L159.77 73.40Z M167.59 84.90 L170.47 85.90 L173.13 86.97 L175.58 88.11 L177.79 89.32 L178.74 91.19 L176.48 90.04 L173.98 88.95 L171.26 87.93 L168.33 86.97Z M168.95 88.92 L171.93 89.83 L174.69 90.81 L177.23 91.85 L179.54 92.95 L180.43 95.15 L178.08 94.11 L175.49 93.12 L172.68 92.20 L169.65 91.33Z M170.16 93.32 L173.23 94.14 L176.08 95.02 L178.71 95.96 L181.09 96.95 L181.86 99.26 L179.43 98.33 L176.76 97.45 L173.87 96.62 L170.76 95.85Z M174.30 122.65 L177.68 122.93 L180.83 123.22 L183.75 123.54 L186.41 123.88 L186.68 127.38 L184.00 127.13 L181.07 126.89 L177.90 126.67 L174.51 126.46Z M174.64 129.85 L178.05 130.00 L181.23 130.16 L184.17 130.33 L186.85 130.51 L186.98 134.21 L184.29 134.12 L181.34 134.02 L178.16 133.94 L174.74 133.86Z M174.78 137.01 L178.20 137.03 L181.39 137.06 L184.33 137.09 L187.03 137.12 L187.02 140.67 L184.32 140.72 L181.38 140.77 L178.19 140.81 L174.77 140.86Z M172.53 171.27 L175.78 170.68 L178.80 170.05 L181.59 169.38 L184.14 168.68 L183.54 171.36 L181.03 172.13 L178.27 172.87 L175.28 173.56 L172.07 174.20Z M171.62 176.70 L174.80 176.01 L177.76 175.27 L180.49 174.48 L182.97 173.65 L182.25 176.24 L179.81 177.14 L177.12 177.99 L174.20 178.79 L171.06 179.53Z M170.59 181.66 L173.70 180.88 L176.58 180.03 L179.24 179.14 L181.65 178.19 L180.87 180.47 L178.50 181.48 L175.89 182.43 L173.04 183.33 L169.99 184.16Z M162.89 200.68 L165.41 199.45 L167.73 198.14 L169.85 196.74 L171.75 195.26 L170.67 196.15 L168.79 197.61 L166.73 199.04 L164.47 200.39 L162.01 201.65Z M161.22 202.38 L163.62 201.10 L165.82 199.72 L167.86 198.30 L169.75 196.88 L168.69 197.68 L166.80 199.05 L164.77 200.42 L162.60 201.78 L160.27 203.09Z M159.52 203.54 L161.81 202.25 L163.97 200.93 L166.00 199.60 L167.89 198.27 L166.95 198.95 L165.05 200.23 L163.03 201.51 L160.89 202.78 L158.62 204.01Z M184.03 94.57 L185.04 95.98 L185.95 97.33 L186.79 98.60 L187.55 99.82 L188.24 100.97 L189.13 102.54 L188.48 101.40 L187.77 100.19 L186.99 98.93 L186.13 97.59 L185.14 96.21Z M186.08 97.75 L187.09 99.08 L187.90 100.41 L188.63 101.66 L189.30 102.85 L189.90 103.97 L190.79 105.71 L190.24 104.62 L189.63 103.46 L188.96 102.23 L188.17 100.94 L187.13 99.68Z M187.91 101.28 L188.98 102.48 L189.77 103.71 L190.39 104.92 L190.96 106.06 L191.47 107.13 L192.27 108.92 L191.81 107.88 L191.30 106.78 L190.72 105.61 L189.90 104.45 L188.81 103.32Z M194.17 125.33 L195.44 125.74 L196.41 126.16 L197.10 126.58 L197.48 127.02 L197.59 127.47 L197.93 130.11 L197.83 129.77 L197.44 129.44 L196.75 129.11 L195.76 128.79 L194.48 128.49Z M194.69 131.30 L195.98 131.52 L196.97 131.74 L197.66 131.98 L198.06 132.21 L198.16 132.46 L198.33 135.24 L198.23 135.12 L197.83 134.99 L197.13 134.87 L196.14 134.75 L194.84 134.63Z M194.90 137.25 L196.19 137.28 L197.19 137.32 L197.89 137.36 L198.29 137.39 L198.39 137.43 L198.38 140.11 L198.28 140.18 L197.88 140.25 L197.18 140.31 L196.18 140.38 L194.89 140.44Z M191.49 165.59 L192.67 164.73 L193.57 163.85 L194.18 162.94 L194.53 162.02 L194.81 161.16 L194.13 163.18 L193.79 164.10 L193.41 165.09 L192.83 166.08 L191.95 167.05 L190.79 167.98Z M190.12 170.02 L191.26 169.02 L192.11 167.98 L192.68 166.92 L193.11 165.88 L193.49 164.92 L192.70 166.89 L192.26 167.90 L191.78 168.99 L191.21 170.12 L190.38 171.24 L189.27 172.33Z M188.56 174.06 L189.65 172.91 L190.46 171.73 L191.05 170.55 L191.58 169.43 L192.05 168.39 L191.24 170.15 L190.72 171.23 L190.14 172.38 L189.49 173.60 L188.71 174.85 L187.65 176.07Z"/>
</g>
<circle cx="124.4" cy="138.4" r="77.5" fill="none" stroke="#000" stroke-width="6.7"/>
<g style="filter:grayscale(1)"><path id="arc" d="M38.40 139.00 A84.00 84.00 0 0 1 206.40 139.00" fill="none"/><text font-size="35" stroke="#000" stroke-width="0.7"><textPath href="#arc" startOffset="17.2" textLength="47.6" lengthAdjust="spacingAndGlyphs">the</textPath></text><text font-size="35" stroke="#000" stroke-width="0.7"><textPath href="#arc" startOffset="78.9" textLength="115.7" lengthAdjust="spacingAndGlyphs">internet</textPath></text></g>
<g fill="#000"><rect x="357.2" y="121.8" width="102" height="33" rx="4.5"/><rect x="372.20" y="141.7" width="8.4" height="7.8" fill="#fff"/><rect x="384.90" y="141.7" width="8.4" height="7.8" fill="#fff"/><rect x="397.60" y="141.7" width="8.4" height="7.8" fill="#fff"/><rect x="410.30" y="141.7" width="8.4" height="7.8" fill="#fff"/><rect x="423.00" y="141.7" width="8.4" height="7.8" fill="#fff"/><rect x="435.70" y="141.7" width="8.4" height="7.8" fill="#fff"/><rect x="579.8" y="124" width="87" height="27.2" rx="3.5"/><rect x="592.10" y="140.3" width="7.6" height="6.8" fill="#fff"/><rect x="603.04" y="140.3" width="7.6" height="6.8" fill="#fff"/><rect x="613.98" y="140.3" width="7.6" height="6.8" fill="#fff"/><rect x="624.92" y="140.3" width="7.6" height="6.8" fill="#fff"/><rect x="635.86" y="140.3" width="7.6" height="6.8" fill="#fff"/><rect x="646.80" y="140.3" width="7.6" height="6.8" fill="#fff"/><rect x="649" y="107.9" width="8.3" height="17" rx="1.2"/><rect x="651.2" y="85.5" width="3.8" height="24" rx="1.8"/><path fill="#333" d="M635.57 73.64 A23.70 23.70 0 0 1 670.23 73.64 L666.80 76.84 A19.00 19.00 0 0 0 639.00 76.84 Z M641.64 80.35 A14.70 14.70 0 0 1 664.16 80.35 L660.64 83.31 A10.10 10.10 0 0 0 645.16 83.31 Z"/></g>
<g fill="#000">
<path d="M91 299.8 C101 299.8 107.2 305.5 108.5 313.5 C109.3 318.5 109.5 324 108.9 328.8 L101.8 341.5 C95 342.1 86 342.1 79.7 341.4 L74.3 328.8 C73.6 324 73.7 318.5 74.5 313.5 C75.9 305.5 81 299.8 91 299.8Z"/>
<path d="M121.5 300 Q121.5 296.9 124.6 296.7 L192 293.3 Q194.6 293.2 194.6 295.8 L194.9 349 Q194.9 351.7 192.3 351.5 L124.2 347.6 Q121.5 347.4 121.5 344.8Z"/>
<path fill="#fff" d="M124.8 300.4 L191.2 297.7 L191.2 342.3 L124.8 339Z"/>
<rect x="151.2" y="350" width="9.2" height="6.5"/>
<path d="M118 355.6 L204.6 355.8 L177.1 380.3 L118 380.3Z"/>
<path fill="#fff" d="M136.8 362.9 L176.6 367.0 L170.0 376.4 L140.2 372.2Z"/>
<g fill="#000"><path d="M139.87 364.80 L143.62 365.20 L143.90 366.66 L140.30 366.25Z M144.76 365.32 L148.51 365.73 L148.59 367.19 L144.99 366.78Z M149.65 365.85 L153.40 366.26 L153.28 367.72 L149.68 367.32Z M154.54 366.38 L158.30 366.79 L157.97 368.25 L154.37 367.85Z M159.44 366.91 L163.19 367.32 L162.66 368.79 L159.06 368.38Z M164.33 367.44 L168.08 367.85 L167.35 369.32 L163.75 368.91Z M169.22 367.97 L172.97 368.38 L172.04 369.85 L168.44 369.44Z M140.55 367.09 L144.05 367.50 L144.33 368.96 L140.98 368.55Z M145.12 367.62 L148.63 368.03 L148.70 369.49 L145.35 369.08Z M149.70 368.16 L153.20 368.56 L153.08 370.03 L149.72 369.62Z M154.27 368.69 L157.78 369.10 L157.45 370.56 L154.10 370.15Z M158.85 369.22 L162.35 369.63 L161.82 371.10 L158.47 370.69Z M163.42 369.75 L166.93 370.16 L166.20 371.63 L162.85 371.22Z M168.00 370.29 L171.50 370.69 L170.57 372.17 L167.22 371.76Z M141.22 369.39 L144.49 369.80 L144.77 371.26 L141.66 370.84Z M145.48 369.92 L161.52 371.94 L160.99 373.41 L145.71 371.38Z M162.51 372.07 L165.78 372.48 L165.05 373.95 L161.94 373.53Z M166.77 372.60 L170.04 373.01 L169.10 374.48 L165.99 374.07Z"/></g>
<path stroke="#fff" stroke-width="2" d="M43.5 386.2 C44.3 378 45.3 368.5 49.3 362.5 C52.5 357.5 57 353.8 63 352.5 C68 351.3 72 350.3 75 348.5 C77 347.2 78.5 345.5 81 344.6 C87 343.6 95 343.6 100.5 344.4 C104 346 110 350.5 117.3 352.2 C122 353.4 126.5 355.8 130 359 C134 362.8 137.2 371 139.2 387.2 C125 390.5 110 393 98 393.4 C85 393.5 65 391.5 43.5 386.2Z"/>
</g>
<g fill="#000">
<path d="M600.8 308 C600.6 301.5 602 298.6 607 297.4 L672.5 282.6 Q681 281 686 288 Q690.5 295 689.5 306 Q688.5 316 682 320 L668.5 327.5 Q668 333 663.5 334.5 L662.6 334.5 L662.6 349.7 L679.7 347.1 L679.7 340.2 L705.5 342.1 L705.5 368 L679.7 362.8 L695.4 357.6 L652.5 358.9 L652.5 338.5 L646 336.3 Q636 342 624 340 Q612 336 608.3 318.6 L601.6 319.6 Z"/>
<ellipse cx="625.4" cy="319.3" rx="10.6" ry="14.1" transform="rotate(-22 625.4 319.3)" fill="#fff"/>
</g>
<g transform="translate(321.2 0.5)" fill="#000">
<path d="M91 299.8 C101 299.8 107.2 305.5 108.5 313.5 C109.3 318.5 109.5 324 108.9 328.8 L101.8 341.5 C95 342.1 86 342.1 79.7 341.4 L74.3 328.8 C73.6 324 73.7 318.5 74.5 313.5 C75.9 305.5 81 299.8 91 299.8Z"/>
<path d="M121.5 300 Q121.5 296.9 124.6 296.7 L192 293.3 Q194.6 293.2 194.6 295.8 L194.9 349 Q194.9 351.7 192.3 351.5 L124.2 347.6 Q121.5 347.4 121.5 344.8Z"/>
<path fill="#fff" d="M124.8 300.4 L191.2 297.7 L191.2 342.3 L124.8 339Z"/>
<rect x="151.2" y="350" width="9.2" height="6.5"/>
<path d="M118 355.6 L204.6 355.8 L177.1 380.3 L118 380.3Z"/>
<path fill="#fff" d="M136.8 362.9 L176.6 367.0 L170.0 376.4 L140.2 372.2Z"/>
<g fill="#000"><path d="M139.87 364.80 L143.62 365.20 L143.90 366.66 L140.30 366.25Z M144.76 365.32 L148.51 365.73 L148.59 367.19 L144.99 366.78Z M149.65 365.85 L153.40 366.26 L153.28 367.72 L149.68 367.32Z M154.54 366.38 L158.30 366.79 L157.97 368.25 L154.37 367.85Z M159.44 366.91 L163.19 367.32 L162.66 368.79 L159.06 368.38Z M164.33 367.44 L168.08 367.85 L167.35 369.32 L163.75 368.91Z M169.22 367.97 L172.97 368.38 L172.04 369.85 L168.44 369.44Z M140.55 367.09 L144.05 367.50 L144.33 368.96 L140.98 368.55Z M145.12 367.62 L148.63 368.03 L148.70 369.49 L145.35 369.08Z M149.70 368.16 L153.20 368.56 L153.08 370.03 L149.72 369.62Z M154.27 368.69 L157.78 369.10 L157.45 370.56 L154.10 370.15Z M158.85 369.22 L162.35 369.63 L161.82 371.10 L158.47 370.69Z M163.42 369.75 L166.93 370.16 L166.20 371.63 L162.85 371.22Z M168.00 370.29 L171.50 370.69 L170.57 372.17 L167.22 371.76Z M141.22 369.39 L144.49 369.80 L144.77 371.26 L141.66 370.84Z M145.48 369.92 L161.52 371.94 L160.99 373.41 L145.71 371.38Z M162.51 372.07 L165.78 372.48 L165.05 373.95 L161.94 373.53Z M166.77 372.60 L170.04 373.01 L169.10 374.48 L165.99 374.07Z"/></g>
<path stroke="#fff" stroke-width="2" d="M43.5 386.2 C44.3 378 45.3 368.5 49.3 362.5 C52.5 357.5 57 353.8 63 352.5 C68 351.3 72 350.3 75 348.5 C77 347.2 78.5 345.5 81 344.6 C87 343.6 95 343.6 100.5 344.4 C104 346 110 350.5 117.3 352.2 C122 353.4 126.5 355.8 130 359 C134 362.8 137.2 371 139.2 387.2 C125 390.5 110 393 98 393.4 C85 393.5 65 391.5 43.5 386.2Z"/>
</g>
<line x1="335.00" y1="129.20" x2="236.70" y2="129.20" stroke="#0c9b48" stroke-width="3.0"/><polygon fill="#0c9b48" points="217.20,129.20 237.20,122.20 237.20,136.20"/>
<line x1="237.20" y1="144.80" x2="334.60" y2="144.80" stroke="#0c9b48" stroke-width="3.0"/><polygon fill="#0c9b48" points="354.10,144.80 334.10,151.80 334.10,137.80"/>
<line x1="546.20" y1="129.25" x2="486.25" y2="129.25" stroke="#0c9b48" stroke-width="3.0"/><polygon fill="#0c9b48" points="466.75,129.25 486.75,122.25 486.75,136.25"/>
<line x1="490.75" y1="144.70" x2="550.75" y2="144.70" stroke="#0c9b48" stroke-width="3.0"/><polygon fill="#0c9b48" points="570.25,144.70 550.25,151.70 550.25,137.70"/>
<line x1="571.80" y1="178.70" x2="507.28" y2="269.49" stroke="#0c9b48" stroke-width="3.0"/><polygon fill="#0c9b48" points="495.40,286.20 501.25,264.59 513.88,273.57"/>
<line x1="524.50" y1="275.20" x2="592.70" y2="178.27" stroke="#0c9b48" stroke-width="3.0"/><polygon fill="#0c9b48" points="604.50,161.50 598.75,183.13 586.08,174.22"/>
<line x1="648.30" y1="253.20" x2="647.00" y2="184.20" stroke="#0c9b48" stroke-width="3.0"/><polygon fill="#0c9b48" points="646.60,162.70 654.01,184.56 640.01,184.83"/>
<line x1="631.40" y1="189.30" x2="632.77" y2="258.60" stroke="#0c9b48" stroke-width="3.0"/><polygon fill="#0c9b48" points="633.20,280.10 625.77,258.24 639.76,257.97"/>
<line x1="134.80" y1="279.80" x2="134.80" y2="233.40" stroke="#0c9b48" stroke-width="2.5"/><polygon fill="#0c9b48" points="134.80,224.60 141.50,233.90 128.10,233.90"/>
<line x1="119.50" y1="233.80" x2="119.50" y2="280.60" stroke="#0c9b48" stroke-width="2.8"/><polygon fill="#0c9b48" points="119.50,289.10 112.80,280.10 126.20,280.10"/>
<g style="filter:grayscale(1)"><g transform="translate(325.95 33.00)"><text x="0" y="0" font-size="31.25" font-weight="normal" font-style="normal" textLength="79.95" lengthAdjust="spacingAndGlyphs">Home</text></g>
<g transform="translate(415.36 33.00)"><text x="0" y="0" font-size="31.25" font-weight="normal" font-style="normal" textLength="26.61" lengthAdjust="spacingAndGlyphs">or</text></g>
<g transform="translate(452.78 33.00)"><text x="0" y="0" font-size="31.25" font-weight="normal" font-style="normal" textLength="87.74" lengthAdjust="spacingAndGlyphs">Office</text></g>
<g transform="translate(548.46 33.00)"><text x="0" y="0" font-size="31.25" font-weight="normal" font-style="normal" textLength="114.00" lengthAdjust="spacingAndGlyphs">Network</text></g>
<g transform="translate(674.19 33.00)"><text x="0" y="0" font-size="31.25" font-weight="normal" font-style="normal" textLength="75.62" lengthAdjust="spacingAndGlyphs">(LAN)</text></g>
<g transform="translate(377.30 173.50)"><text x="0" y="0" font-size="17.40" font-weight="normal" font-style="normal" textLength="59.50" lengthAdjust="spacingAndGlyphs" stroke="#000" stroke-width="0.90">MODEM</text></g>
<g transform="translate(672.20 143.50)"><text x="0" y="0" font-size="17.80" font-weight="normal" font-style="normal" textLength="66.00" lengthAdjust="spacingAndGlyphs" stroke="#000" stroke-width="0.40">ROUTER</text></g>
<g transform="translate(213.20 116.00)"><text x="0" y="0" font-size="17.20" font-weight="normal" font-style="normal" textLength="49.00" lengthAdjust="spacingAndGlyphs" stroke="#000" stroke-width="0.55">(WAN)</text></g>
<g transform="translate(45.30 417.40) scale(1.080 1)"><text x="0" y="0" font-size="16.60" font-weight="normal" font-style="normal" textLength="74.54" lengthAdjust="spacing" stroke="#000" stroke-width="0.60">Computer</text></g>
<g transform="translate(131.50 417.40)"><text x="0" y="0" font-size="16.60" font-weight="normal" font-style="italic" textLength="66.00" lengthAdjust="spacingAndGlyphs" stroke="#000" stroke-width="0.45">OUTSIDE</text></g>
<g transform="translate(58.50 438.00) scale(1.080 1)"><text x="0" y="0" font-size="16.60" font-weight="normal" font-style="normal" textLength="121.30" lengthAdjust="spacing" stroke="#000" stroke-width="0.60">of your network</text></g>
<g transform="translate(371.30 417.40) scale(1.080 1)"><text x="0" y="0" font-size="16.60" font-weight="normal" font-style="normal" textLength="74.54" lengthAdjust="spacing" stroke="#000" stroke-width="0.60">Computer</text></g>
<g transform="translate(457.50 417.40)"><text x="0" y="0" font-size="16.60" font-weight="normal" font-style="italic" textLength="51.00" lengthAdjust="spacingAndGlyphs" stroke="#000" stroke-width="0.45">INSIDE</text></g>
<g transform="translate(376.50 438.00) scale(1.080 1)"><text x="0" y="0" font-size="16.60" font-weight="normal" font-style="normal" textLength="121.76" lengthAdjust="spacing" stroke="#000" stroke-width="0.60">of your network</text></g>
<g transform="translate(637.50 386.60)"><text x="0" y="0" font-size="16.90" font-weight="normal" font-style="normal" textLength="57.50" lengthAdjust="spacingAndGlyphs" stroke="#000" stroke-width="0.80">DEVICE</text></g>
<g transform="translate(605.00 408.00) scale(1.080 1)"><text x="0" y="0" font-size="16.90" font-weight="normal" font-style="normal" textLength="108.80" lengthAdjust="spacing" stroke="#000" stroke-width="0.60">(Camera, DVR,</text></g>
<g transform="translate(600.00 428.00) scale(1.080 1)"><text x="0" y="0" font-size="16.90" font-weight="normal" font-style="normal" textLength="122.69" lengthAdjust="spacing" stroke="#000" stroke-width="0.60">or other device)</text></g></g>
</svg>
</body></html>
